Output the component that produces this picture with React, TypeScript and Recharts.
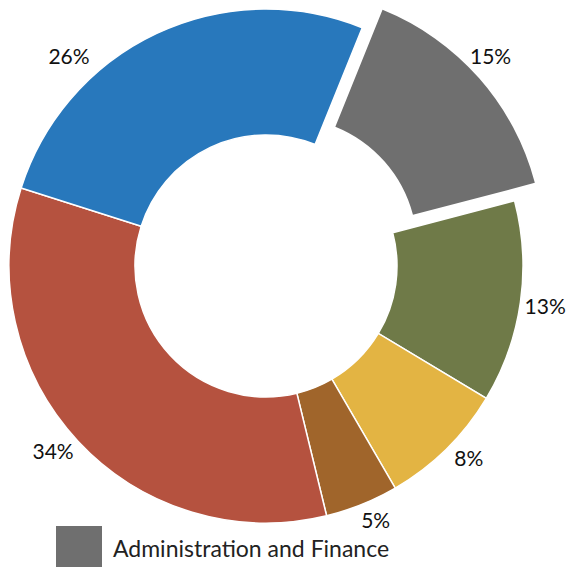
import React from "react";
import { PieChart, Pie, Cell, Legend } from "recharts";

const categories = [
  "Administration and Finance",
  "Category B",
  "Category C",
  "Category D",
  "Category E",
  "Category F",
];
const values = [14.8, 12.7, 8.0, 4.6, 33.7, 26.2];
const labels = ["15%", "13%", "8%", "5%", "34%", "26%"];
const colors = ["#6F6F6F", "#6F7A48", "#E3B443", "#A0652B", "#B5523F", "#2878BC"];

const data = categories.map((name, i) => ({ name, value: values[i], label: labels[i] }));

const W = 572;
const H = 567;
const CX = 266;
const CY = 266;
const INNER = 131;
const OUTER = 257;
const EXPLODE = 27;
const START = 68;
const END = -292;
const FONT = "Lato, 'DejaVu Sans', sans-serif";
const RAD = Math.PI / 180;

// Label placement tweaks (degrees / px) relative to slice middle
const labelNudge: Record<number, number> = { 0: 2, 2: 2, 3: 1.5, 4: -2, 5: 18 };
const labelGap: Record<number, number> = { 0: 24, 1: 25, 2: 22, 3: 19, 4: 25, 5: 31 };

const total = values.reduce((a, b) => a + b, 0);
const grayMid = START - ((values[0] / total) * 360) / 2;
const dx = EXPLODE * Math.cos(grayMid * RAD);
const dy = -EXPLODE * Math.sin(grayMid * RAD);

function makeLabel(only: (i: number) => boolean) {
  return (props: any) => {
    const { cx, cy, midAngle, outerRadius, index } = props;
    if (!only(index)) return null;
    const ang = midAngle + (labelNudge[index] || 0);
    const r = outerRadius + (labelGap[index] ?? 25);
    const x = cx + r * Math.cos(-ang * RAD);
    const y = cy + r * Math.sin(-ang * RAD);
    return (
      <text
        x={x}
        y={y}
        textAnchor="middle"
        dominantBaseline="central"
        fill="#111"
        fontFamily={FONT}
        fontSize={21}
      >
        {data[index].label}
      </text>
    );
  };
}

const LegendContent = () => (
  <div style={{ display: "flex", alignItems: "flex-start", fontFamily: FONT }}>
    <div style={{ width: 46, height: 41, background: colors[0] }} />
    <span style={{ fontSize: 23, color: "#222", marginLeft: 11, marginTop: 9, lineHeight: "27px", whiteSpace: "nowrap" }}>
      {categories[0]}
    </span>
  </div>
);

export default function App() {
  return (
    <div style={{ position: "absolute", left: 0, top: 0, background: "#fff" }}>
      <PieChart width={W} height={H} margin={{ top: 0, right: 0, bottom: 0, left: 0 }}>
        <Pie
          data={data}
          dataKey="value"
          cx={CX}
          cy={CY}
          innerRadius={INNER}
          outerRadius={OUTER}
          startAngle={START}
          endAngle={END}
          stroke="#ffffff"
          strokeWidth={1.5}
          isAnimationActive={false}
          labelLine={false}
          label={makeLabel((i) => i !== 0)}
        >
          {data.map((d, i) => (
            <Cell
              key={d.name}
              fill={i === 0 ? "none" : colors[i]}
              stroke={i === 0 ? "none" : "#ffffff"}
            />
          ))}
        </Pie>
        <Pie
          data={data}
          dataKey="value"
          cx={CX + dx}
          cy={CY + dy}
          innerRadius={INNER}
          outerRadius={OUTER}
          startAngle={START}
          endAngle={END}
          stroke="none"
          isAnimationActive={false}
          labelLine={false}
          label={makeLabel((i) => i === 0)}
        >
          {data.map((d, i) => (
            <Cell key={d.name} fill={i === 0 ? colors[0] : "none"} stroke="none" />
          ))}
        </Pie>
        <Legend
          content={LegendContent}
          wrapperStyle={{ position: "absolute", top: 526, left: 56, bottom: "auto", width: "auto" }}
        />
      </PieChart>
    </div>
  );
}
